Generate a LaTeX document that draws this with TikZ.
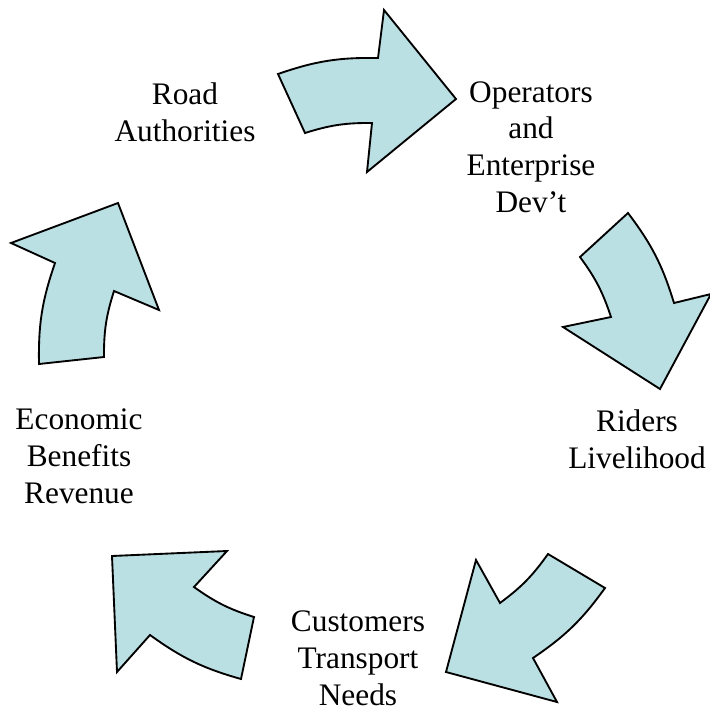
\documentclass[tikz,border=0pt]{standalone}
\usepackage{fontspec}
\setmainfont{Liberation Serif}
\begin{document}
\begin{tikzpicture}[x=0.75pt,y=-0.75pt,
  cyclearrow/.style={fill=arrowfill,draw=black,line width=1.4pt,line join=miter},
  label/.style={align=center,inner sep=0pt,anchor=base,
    font=\fontsize{23.5}{27.4}\selectfont}]
\definecolor{arrowfill}{RGB}{187,224,227}
\useasboundingbox (0,0) rectangle (710,711);

% five curved block arrows running clockwise
\draw[cyclearrow] (278,74) to[bend left=10] (378,58) -- (384,10) -- (456,99)
  -- (367,172) -- (372,123) to[bend right=9] (305,133) -- cycle;
\draw[cyclearrow] (628,213) to[bend left=10] (674,303) -- (711,294) -- (660,389)
  -- (563,327) -- (611,317) to[bend right=9] (580,257) -- cycle;
\draw[cyclearrow] (605,588) to[bend left=10] (533,658) -- (557,702) -- (446,672)
  -- (476,560) -- (500,603) to[bend right=9] (548,554) -- cycle;
\draw[cyclearrow] (241,679) to[bend left=10] (150,635) -- (117,672) -- (112,556)
  -- (227,551) -- (194,587) to[bend right=9] (254,617) -- cycle;
\draw[cyclearrow] (39,364) to[bend left=10] (55,263) -- (11,243) -- (118,203)
  -- (159,310) -- (114,291) to[bend right=9] (104,357) -- cycle;

% stage labels (anchored at the baseline of the last line)
\node[label] (road) at (185,141) {Road\\Authorities};
\node[label] (oper) at (531,212) {Operators\\and\\Enterprise\\Dev’t};
\node[label] (riders) at (637,468) {Riders\\Livelihood};
\node[label] (cust) at (358,705) {Customers\\Transport\\Needs};
\node[label] (econ) at (79,503) {Economic\\Benefits\\Revenue};
\end{tikzpicture}
\end{document}
